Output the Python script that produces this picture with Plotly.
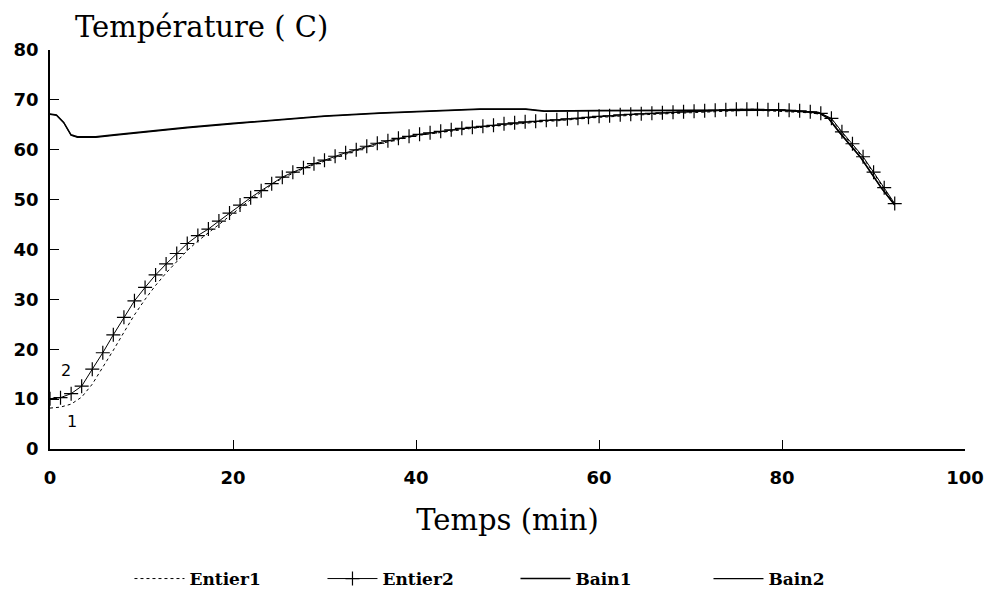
import plotly.graph_objects as go

# ---- data ----
step = 1.154
times = [round(i * step, 2) for i in range(81)]

entier2 = [10.1, 10.3, 11.1, 12.6, 16.0, 19.3, 22.9, 26.4, 29.7, 32.4,
           34.9, 37.1, 39.2, 41.2, 42.8, 44.1, 45.7, 47.3, 48.9, 50.4,
           51.8, 53.2, 54.5, 55.5, 56.4, 57.2, 57.9, 58.7, 59.4, 60.0,
           60.7, 61.3, 61.8, 62.3, 62.7, 63.1, 63.4, 63.7, 64.0, 64.3,
           64.5, 64.7, 64.9, 65.2, 65.4, 65.6, 65.7, 65.9, 66.0, 66.2,
           66.3, 66.5, 66.7, 66.8, 67.0, 67.1, 67.2, 67.3, 67.4, 67.5,
           67.6, 67.7, 67.8, 67.9, 68.0, 68.1, 68.1, 68.1, 68.0, 68.0,
           67.9, 67.8, 67.6, 67.3, 66.3, 63.6, 61.2, 58.6, 55.5, 52.4,
           49.2]

entier1 = [8.2, 8.4, 9.0, 10.4, 13.0, 16.3, 19.8, 23.4, 26.9, 30.0,
           32.8, 35.3, 37.6, 39.8, 41.7, 43.3, 45.0, 46.7, 48.4, 50.0,
           51.5, 53.0, 54.3, 55.3, 56.2, 57.0, 57.7, 58.5, 59.2, 59.8,
           60.5, 61.1, 61.6, 62.1, 62.5, 62.9, 63.2, 63.5, 63.8, 64.1,
           64.3, 64.5, 64.7, 65.0, 65.2, 65.4, 65.5, 65.7, 65.8, 66.0,
           66.1, 66.3, 66.5, 66.6, 66.8, 66.9, 67.0, 67.1, 67.2, 67.3,
           67.4, 67.5, 67.6, 67.7, 67.8, 67.9, 67.9, 67.9, 67.8, 67.8,
           67.7, 67.6, 67.4, 67.1, 66.1, 63.4, 61.0, 58.4, 55.3, 52.2,
           49.0]

bain_t = [0, 0.7, 1.5, 2.3, 3.0, 5, 7, 10, 15, 20, 25, 30, 36, 42, 47, 52,
          54, 60, 70, 80, 84, 85.1, 86.25, 87.4, 88.55, 89.7, 90.85, 92.3]
bain1 = [67.2, 67.0, 65.5, 63.0, 62.6, 62.6, 63.0, 63.6, 64.5, 65.3, 66.1,
         66.8, 67.4, 67.9, 68.2, 68.2, 67.8, 67.9, 68.0, 68.0, 67.5, 66.3,
         63.6, 61.2, 58.6, 55.5, 52.4, 49.0]
bain2 = [67.1, 66.9, 65.4, 62.9, 62.5, 62.5, 62.9, 63.5, 64.4, 65.2, 66.0,
         66.7, 67.3, 67.8, 68.1, 68.1, 67.7, 67.8, 67.9, 67.9, 67.4, 66.2,
         63.5, 61.1, 58.5, 55.4, 52.3, 48.9]

x_ticks = [0, 20, 40, 60, 80, 100]
y_ticks = [0, 10, 20, 30, 40, 50, 60, 70, 80]

fig = go.Figure()
fig.add_trace(go.Scatter(x=times, y=entier1, name="Entier1", mode="lines",
                         line=dict(color="black", width=1, dash="dot")))
fig.add_trace(go.Scatter(x=times, y=entier2, name="Entier2", mode="lines+markers",
                         line=dict(color="black", width=1),
                         marker=dict(symbol="cross-thin", size=10, color="black",
                                     line=dict(color="black", width=1.2))))
fig.add_trace(go.Scatter(x=bain_t, y=bain1, name="Bain1", mode="lines",
                         line=dict(color="black", width=1.4)))
fig.add_trace(go.Scatter(x=bain_t, y=bain2, name="Bain2", mode="lines",
                         line=dict(color="black", width=1.2)))

serif = "DejaVu Serif"
sans = "DejaVu Sans"

fig.update_layout(
    width=996, height=600,
    margin=dict(l=50, r=31, t=50, b=151),
    paper_bgcolor="white", plot_bgcolor="white",
    showlegend=True,
    legend=dict(orientation="h", xref="container", yref="container",
                x=0.13, xanchor="left", y=0.065, yanchor="top",
                font=dict(family=serif, size=17, color="black", weight="bold"),
                entrywidth=128, entrywidthmode="pixels", itemwidth=50,
                bgcolor="rgba(0,0,0,0)"),
    annotations=[
        dict(text="Température ( C)", xref="paper", yref="paper", x=0.025, y=1.105,
             xanchor="left", yanchor="top", showarrow=False,
             font=dict(family=serif, size=29, color="black")),
        dict(text="2", x=1.8, y=15.7, xref="x", yref="y", showarrow=False,
             font=dict(family=sans, size=16, color="black")),
        dict(text="1", x=2.4, y=5.6, xref="x", yref="y", showarrow=False,
             font=dict(family=sans, size=16, color="black")),
    ],
)

fig.update_xaxes(range=[0, 100], tickvals=x_ticks, ticktext=[str(v) for v in x_ticks],
                 showline=True, linecolor="black", linewidth=1.5, mirror=False,
                 ticks="inside", ticklen=9, tickcolor="black", tickwidth=1,
                 showgrid=False, zeroline=False, ticklabelstandoff=12,
                 tickfont=dict(family=sans, size=18, color="black", weight="bold"),
                 title=dict(text="Temps (min)", standoff=22,
                            font=dict(family=serif, size=29, color="black")))
fig.update_yaxes(range=[0, 80], tickvals=y_ticks, ticktext=[str(v) for v in y_ticks],
                 showline=True, linecolor="black", linewidth=1.5, mirror=False,
                 ticks="inside", ticklen=9, tickcolor="black", tickwidth=1,
                 showgrid=False, zeroline=False, ticklabelstandoff=6,
                 tickfont=dict(family=sans, size=18, color="black", weight="bold"))

fig.write_html("out.html")
